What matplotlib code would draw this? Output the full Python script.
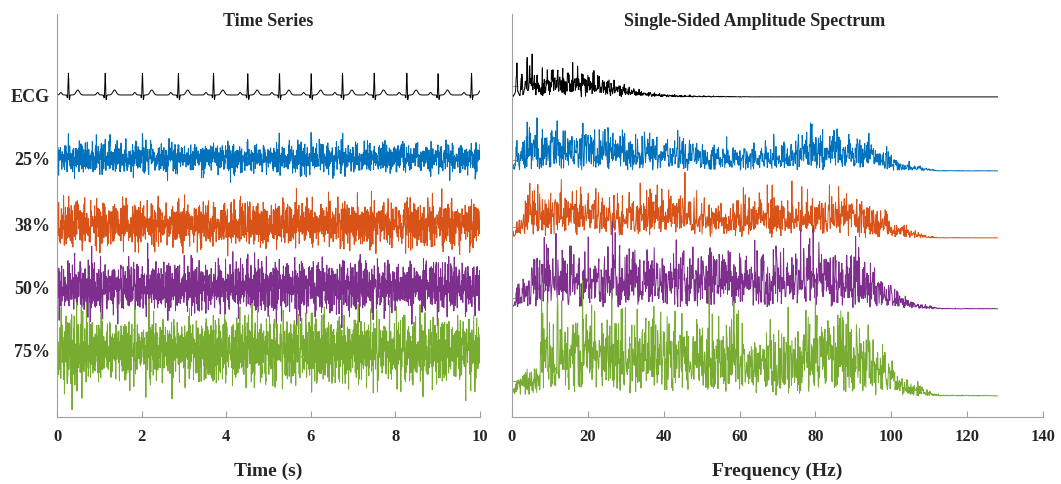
import numpy as np
import matplotlib.pyplot as plt

plt.rcParams['font.family'] = ['Liberation Serif', 'DejaVu Serif']
plt.rcParams['font.weight'] = 'bold'

###### dados ######
fs = 256            # Hz (espectro vai ate 128 Hz)
duracao = 10        # s

# instantes dos picos R do ECG (s)
batidas = [0.27, 1.14, 2.02, 2.87, 3.70, 4.51, 5.26, 6.01, 6.75, 7.50, 8.27, 9.01, 9.80]

# ondas do batimento: deslocamento (s), amplitude (px), largura (s)
ondas_nome = ['P', 'Q', 'R', 'S', 'T']
ondas_desl = [-0.18, -0.025, 0.0, 0.022, 0.22]
ondas_amp = [2.5, -3.0, 22.0, -5.0, 5.0]
ondas_larg = [0.025, 0.008, 0.008, 0.008, 0.04]

rotulos = ['ECG', '25%', '38%', '50%', '75%']
cores = ['#000000', '#0072BD', '#D95319', '#7E2F8E', '#77AC30']

# series ruidosas
desvio_ruido = [7, 10.5, 12, 16]          # px no tempo
ganho_ecg = [0.7, 0.6, 0.5, 0.25]

# envoltoria do espectro (Hz, nivel em px)
env_f = [
    [0, 1.5, 3, 40, 55, 68, 78, 92, 97, 102, 107, 112, 128],
    [0, 2, 4, 40, 55, 65, 90, 98, 103, 108, 112, 128],
    [0, 3, 6, 10, 50, 92, 98, 102, 108, 113, 128],
    [0, 1, 7, 8, 30, 60, 70, 80, 92, 97, 102, 108, 113, 128],
]
env_v = [
    [2, 8, 14, 14, 10, 11, 15, 15, 9, 4, 2, 0.2, 0.1],
    [2, 6, 19, 18, 14, 17, 17, 11, 5, 1.5, 0.2, 0.1],
    [3, 12, 21, 24, 23, 23, 14, 6, 2, 0.3, 0.2],
    [2, 9, 11, 32, 34, 28, 27, 32, 32, 20, 8, 3, 0.4, 0.2],
]
pico_ecg_espectro = 43

# posicao vertical de cada traco (px a partir do eixo)
base_tempo = [322, 259, 193, 130, 67]
base_freq = [320, 246, 179, 108, 21]
ticks_freq = [331, 257, 190, 119, 36]

###### sinais ######
n = fs * duracao
t = np.arange(n) / fs
freqs = np.fft.rfftfreq(n, 1 / fs)

ecg = np.zeros(n)
for b in batidas:
    for d, a, w in zip(ondas_desl, ondas_amp, ondas_larg):
        ecg += a * np.exp(-0.5 * ((t - b - d) / w) ** 2)

espec_ecg = np.abs(np.fft.rfft(ecg - ecg.mean()))
espec_ecg = espec_ecg / espec_ecg.max() * pico_ecg_espectro

rng = np.random.default_rng(3)
sinais = [ecg]
espectros = [espec_ecg]
for i in range(4):
    sig = np.interp(freqs, env_f[i], env_v[i])
    N = sig * rng.rayleigh(1.0, len(freqs)) * np.exp(1j * rng.uniform(0, 2 * np.pi, len(freqs)))
    N[0] = 0
    ruido = np.fft.irfft(N, n)
    s_n = ruido.std()
    x = ganho_ecg[i] * (ecg - ecg.mean()) + ruido * desvio_ruido[i] / s_n
    sinais.append(x)
    espectros.append(np.abs(np.fft.rfft(x - x.mean())) * s_n / desvio_ruido[i])

###### figura ######
fig = plt.figure(figsize=(10.61, 4.85), dpi=100)
ax1 = fig.add_axes([57 / 1061, 67 / 485, 423 / 1061, 403 / 485])
ax2 = fig.add_axes([512 / 1061, 67 / 485, 531 / 1061, 403 / 485])

for i in range(5):
    ax1.plot(t, base_tempo[i] + sinais[i], color=cores[i], lw=0.7)
    ax2.plot(freqs, base_freq[i] + espectros[i], color=cores[i], lw=0.7)

for ax in (ax1, ax2):
    ax.set_ylim(0, 403)
    for s in ['top', 'right']:
        ax.spines[s].set_visible(False)
    for s in ['left', 'bottom']:
        ax.spines[s].set_color('#a0a0a0')
    ax.tick_params(axis='x', direction='in', length=4, color='#a0a0a0',
                   labelsize=12, pad=8, labelcolor='#262626')

ax1.set_xlim(0, 10)
ax1.set_xticks([0, 2, 4, 6, 8, 10])
ax1.set_yticks(base_tempo)
ax1.set_yticklabels(rotulos)
ax1.tick_params(axis='y', length=0, pad=5, labelsize=13, labelcolor='#262626')

ax2.set_xlim(0, 140)
ax2.set_xticks(range(0, 141, 20))
ax2.set_yticks(ticks_freq)
ax2.set_yticklabels([])
ax2.tick_params(axis='y', direction='in', length=4, color='#a0a0a0')

ax1.text(5, 396, 'Time Series', ha='center', va='center', fontsize=13,
         fontweight='bold', color='#262626')
ax2.text(64, 396, 'Single-Sided Amplitude Spectrum', ha='center', va='center',
         fontsize=13, fontweight='bold', color='#262626')

ax1.set_xlabel('Time (s)', fontsize=14, fontweight='bold', color='#262626')
ax2.set_xlabel('Frequency (Hz)', fontsize=14, fontweight='bold', color='#262626')
ax1.xaxis.set_label_coords(0.5, -0.11)
ax2.xaxis.set_label_coords(0.5, -0.11)

fig.savefig('out.png', dpi=100)
